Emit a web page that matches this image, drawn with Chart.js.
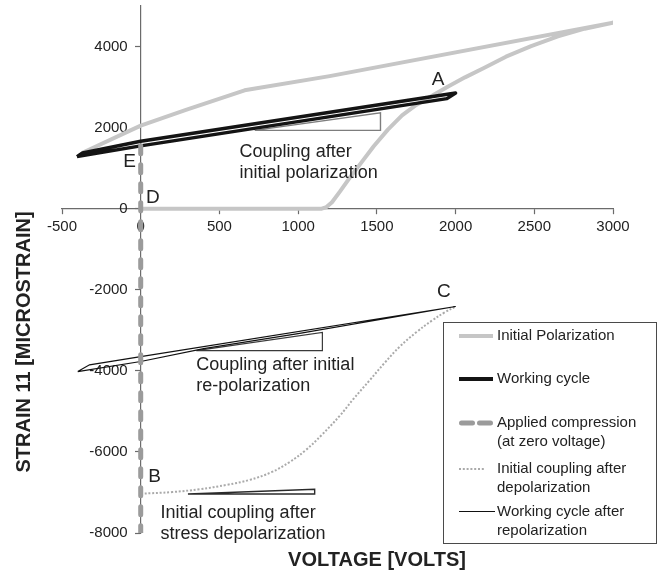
<!DOCTYPE html>
<html>
<head>
<meta charset="utf-8">
<script src="https://cdn.jsdelivr.net/npm/chart.js@4.4.0/dist/chart.umd.min.js"></script>
<style>
  html, body { margin: 0; padding: 0; background: #fff; }
  #chart { display: block; }
</style>
</head>
<body>
<canvas id="chart" width="661" height="575"></canvas>
<script>
// tick values
const xTicks = [-500, 0, 500, 1000, 1500, 2000, 2500, 3000];
const yTicks = [-8000, -6000, -4000, -2000, 0, 2000, 4000];

// [voltage, microstrain]
const initialPolarization = [
  [0, 0], [1150, 0], [1180, 40], [1215, 160], [1265, 420], [1325, 750], [1400, 1130],
  [1480, 1540], [1570, 1950], [1660, 2300], [1750, 2560], [1840, 2760], [1950, 3010],
  [2060, 3240], [2180, 3470], [2320, 3750], [2480, 4010], [2650, 4250], [2820, 4440],
  [3000, 4590], [1200, 3270], [660, 2920], [292, 2445], [0, 2050], [-370, 1380]
];
const workingCycle = [
  [-405, 1285], [-370, 1375], [0, 1662], [2000, 2855], [1945, 2715], [0, 1550], [-405, 1285]
];
const appliedCompression = [[0, 1550], [0, -8000]];
const couplingDepolarized = [
  [0, -7030], [200, -6990], [374, -6920], [550, -6810], [692, -6690], [830, -6500],
  [946, -6250], [1050, -5950], [1150, -5580], [1264, -5110], [1350, -4700], [1455, -4230],
  [1550, -3800], [1646, -3400], [1750, -3050], [1850, -2760], [1930, -2560], [2000, -2412]
];
const workingCycleRepolarized = [
  [-400, -4017], [-325, -3852], [0, -3647], [2000, -2412],
  [1000, -3080], [400, -3450], [0, -3770], [-400, -4017]
];

// slope triangles
const slopePolarized = [[724, 1933], [1523, 1933], [1523, 2363], [724, 1933]];
const slopeRepolarized = [[353, -3499], [1154, -3499], [1154, -3054], [353, -3499]];
const slopeDepolarized = [[300, -7037], [1105, -7037], [1105, -6921], [300, -7037]];

const FONT = '"Liberation Sans", Arial, Helvetica, sans-serif';
const TEXT = '#222';

const pts = arr => arr.map(([x, y]) => ({ x, y }));

const datasets = [
  {
    label: 'Applied compression (at zero voltage)',
    data: pts(appliedCompression),
    borderColor: '#9b9b9b', borderWidth: 5,
    borderDash: [8, 11], borderCapStyle: 'round', order: 0
  },
  {
    label: 'Working cycle',
    data: pts(workingCycle),
    borderColor: '#141414', borderWidth: 3.5, borderJoinStyle: 'round', order: 1
  },
  {
    label: 'Working cycle after repolarization',
    data: pts(workingCycleRepolarized),
    borderColor: '#111', borderWidth: 1.2, order: 2
  },
  {
    label: 'Initial coupling after depolarization',
    data: pts(couplingDepolarized),
    borderColor: '#aaaaaa', borderWidth: 2, borderDash: [2, 1.8], tension: 0.4, order: 3
  },
  { label: 'slope1', data: pts(slopePolarized), borderColor: '#7d7d7d', borderWidth: 1.4, order: 4 },
  { label: 'slope2', data: pts(slopeRepolarized), borderColor: '#3a3a3a', borderWidth: 1.2, order: 4 },
  { label: 'slope3', data: pts(slopeDepolarized), borderColor: '#2a2a2a', borderWidth: 1.4, order: 4 },
  {
    label: 'Initial Polarization',
    data: pts(initialPolarization),
    borderColor: '#c6c6c6', borderWidth: 4, borderJoinStyle: 'round', order: 5
  }
];
datasets.forEach(d => { d.showLine = true; d.pointRadius = 0; d.fill = false; });

// letters and notes, placed in data units
const pointLetters = [
  { text: 'A', x: 1889, y: 3185 },
  { text: 'B', x: 88, y: -6610 },
  { text: 'C', x: 1925, y: -2042 },
  { text: 'D', x: 77, y: 264 },
  { text: 'E', x: -71, y: 1168 }
];
const notes = [
  { lines: ['Coupling after', 'initial polarization'], x: 628, y: 1395 },
  { lines: ['Coupling after initial', 're-polarization'], x: 353, y: -3852 },
  { lines: ['Initial coupling after', 'stress depolarization'], x: 126, y: -7506 }
];

// legend rows: dataset label, text lines, offset from box top
const legendRows = [
  { label: 'Initial Polarization', lines: ['Initial Polarization'], dy: 14, len: 34 },
  { label: 'Working cycle', lines: ['Working cycle'], dy: 57, len: 34 },
  { label: 'Applied compression (at zero voltage)', lines: ['Applied compression', '(at zero voltage)'], dy: 101, len: 34 },
  { label: 'Initial coupling after depolarization', lines: ['Initial coupling after', 'depolarization'], dy: 147, len: 26 },
  { label: 'Working cycle after repolarization', lines: ['Working cycle after', 'repolarization'], dy: 189.5, len: 36 }
];

// tick labels sit beside the crossing axes, under the data lines
const tickLabels = {
  id: 'tickLabels',
  beforeDatasetsDraw(chart) {
    const { ctx, scales } = chart;
    const ax = scales.x.getPixelForValue(0);
    const ay = scales.y.getPixelForValue(0);
    ctx.save();
    ctx.fillStyle = TEXT;
    ctx.font = `15px ${FONT}`;
    ctx.textBaseline = 'middle';
    ctx.textAlign = 'right';
    yTicks.forEach(v => ctx.fillText(String(v), ax - 13, scales.y.getPixelForValue(v)));
    ctx.textAlign = 'center';
    xTicks.forEach(v => ctx.fillText(String(v), scales.x.getPixelForValue(v), ay + 18));
    ctx.restore();
  }
};

const overlay = {
  id: 'overlay',
  afterDraw(chart) {
    const { ctx, scales } = chart;
    const sx = scales.x, sy = scales.y;
    ctx.save();
    ctx.fillStyle = TEXT;
    ctx.textBaseline = 'middle';

    ctx.font = `19px ${FONT}`;
    ctx.textAlign = 'center';
    pointLetters.forEach(l => ctx.fillText(l.text, sx.getPixelForValue(l.x), sy.getPixelForValue(l.y)));

    ctx.font = `18px ${FONT}`;
    ctx.textAlign = 'left';
    notes.forEach(n => {
      const px = sx.getPixelForValue(n.x), py = sy.getPixelForValue(n.y);
      n.lines.forEach((t, i) => ctx.fillText(t, px, py + i * 21));
    });

    // axis titles
    ctx.font = `bold 20px ${FONT}`;
    ctx.textAlign = 'center';
    ctx.fillText('VOLTAGE [VOLTS]', 377, 560);
    ctx.save();
    ctx.translate(24, 342);
    ctx.rotate(-Math.PI / 2);
    ctx.fillText('STRAIN 11 [MICROSTRAIN]', 0, 0);
    ctx.restore();

    // legend box
    const box = { left: 443, top: 322, width: 213, height: 221 };
    ctx.fillStyle = '#fff';
    ctx.fillRect(box.left, box.top, box.width, box.height);
    ctx.strokeStyle = '#4a4a4a';
    ctx.lineWidth = 1;
    ctx.strokeRect(box.left + 0.5, box.top + 0.5, box.width, box.height);

    ctx.font = `15px ${FONT}`;
    ctx.textAlign = 'left';
    legendRows.forEach(row => {
      const ds = chart.data.datasets.find(d => d.label === row.label);
      const y = box.top + row.dy;
      const x0 = box.left + 16;
      const round = ds.borderCapStyle === 'round';
      ctx.save();
      ctx.strokeStyle = ds.borderColor;
      ctx.lineWidth = Math.max(ds.borderWidth, row.len > 30 && ds.borderWidth > 3 ? 4 : 0);
      ctx.lineCap = round ? 'round' : 'butt';
      ctx.setLineDash(ds.borderDash ? (round ? [11, 7] : ds.borderDash) : []);
      ctx.beginPath();
      ctx.moveTo(x0 + (round ? 2.5 : 0), y);
      ctx.lineTo(x0 + row.len - (round ? 2.5 : 0), y);
      ctx.stroke();
      ctx.restore();
      ctx.fillStyle = TEXT;
      row.lines.forEach((t, i) => ctx.fillText(t, box.left + 54, y + i * 19));
    });
    ctx.restore();
  }
};

const axisColor = '#6b6b6b';
const axisStyle = {
  border: { color: axisColor, width: 1.2 },
  grid: { drawOnChartArea: false, drawTicks: true, color: axisColor, tickLength: 5, tickWidth: 1.2 },
  ticks: { display: false }
};

new Chart(document.getElementById('chart'), {
  type: 'scatter',
  data: { datasets },
  options: {
    responsive: false,
    animation: false,
    events: [],
    layout: { padding: { left: 62, right: 48, top: 6, bottom: 42 } },
    plugins: { legend: { display: false }, tooltip: { enabled: false } },
    scales: {
      x: {
        type: 'linear', min: -500, max: 3000,
        position: { y: 0 },
        afterBuildTicks: s => { s.ticks = xTicks.map(v => ({ value: v })); },
        ...axisStyle
      },
      y: {
        type: 'linear', min: -8000, max: 5000,
        position: { x: 0 },
        afterBuildTicks: s => { s.ticks = yTicks.map(v => ({ value: v })); },
        ...axisStyle
      }
    }
  },
  plugins: [tickLabels, overlay]
});
</script>
</body>
</html>
